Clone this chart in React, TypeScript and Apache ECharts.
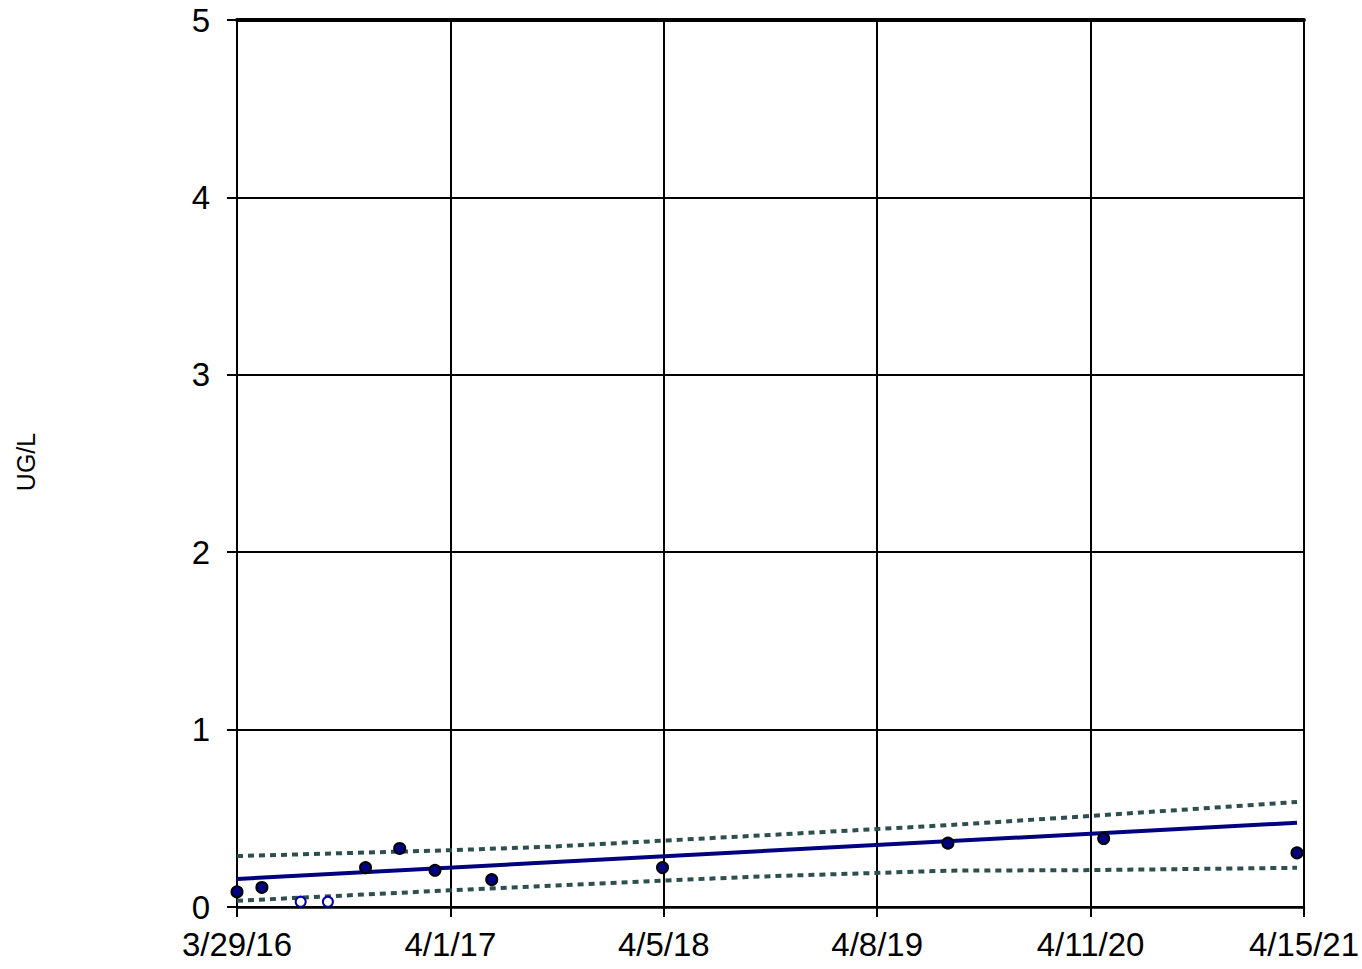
import React, { useEffect, useRef } from "react";
import * as echarts from "echarts";

// ---- Data ----
const START_DATE = "2016-03-29";
const END_DATE = "2021-04-15";
const X_TICK_COUNT = 5;

const detectDates = ["2016-03-29", "2016-05-11", "2016-11-06", "2017-01-04", "2017-03-06", "2017-06-12", "2018-04-03", "2019-08-09", "2020-05-04", "2021-04-03"];
const detectValues = [0.085, 0.11, 0.222, 0.33, 0.207, 0.154, 0.222, 0.36, 0.386, 0.305];

const nondetectDates = ["2016-07-17", "2016-09-02"];
const nondetectValues = [0.03, 0.03];

const trendDates = ["2016-03-29", "2021-04-03"];
const trendValues = [0.158, 0.475];

const bandDates = ["2016-03-29", "2017-04-01", "2017-09-21", "2018-09-01", "2019-08-13", "2020-04-11", "2021-04-03"];
const upperBand = [0.287, 0.32, 0.34, 0.4, 0.462, 0.513, 0.592];
const lowerBand = [0.035, 0.094, 0.12, 0.17, 0.205, 0.208, 0.221];

const yTicks = [0, 1, 2, 3, 4, 5];
const yLabel = "UG/L";

// ---- helpers ----
const DAY = 86400000;
const t0 = Date.parse(START_DATE + "T00:00:00Z");
const dayOf = (s: string) => Math.round((Date.parse(s + "T00:00:00Z") - t0) / DAY);
const xMax = dayOf(END_DATE);
const xInterval = Math.round((xMax / X_TICK_COUNT) * 10) / 10;
const fmt = (v: number) => {
  const d = new Date(t0 + Math.floor(v + 1e-6) * DAY);
  return `${d.getUTCMonth() + 1}/${d.getUTCDate()}/${String(d.getUTCFullYear()).slice(2)}`;
};
const pairs = (ds: string[], vs: number[]) => ds.map((d, i) => [dayOf(d), vs[i]]);

const FONT = "'Liberation Sans', Arial, sans-serif";

export default function App() {
  const ref = useRef<HTMLDivElement>(null);
  useEffect(() => {
    if (!ref.current) return;
    const chart = echarts.init(ref.current, undefined, { renderer: "svg" });
    chart.setOption({
      animation: false,
      backgroundColor: "#ffffff",
      grid: { left: 237, right: 58, top: 20, bottom: 62 },
      xAxis: [
        {
          type: "value",
          min: 0,
          max: xMax,
          interval: xInterval,
          axisLine: { show: true, onZero: false, lineStyle: { color: "#000", width: 2.5 } },
          axisTick: { show: true, length: 10, lineStyle: { color: "#000", width: 2 } },
          splitLine: { show: true, lineStyle: { color: "#000", width: 2 } },
          axisLabel: {
            formatter: fmt,
            fontSize: 33,
            color: "#000",
            fontFamily: FONT,
            margin: 21,
            showMinLabel: true,
            showMaxLabel: true,
          },
        },
        {
          type: "value",
          position: "top",
          min: 0,
          max: xMax,
          interval: xInterval,
          axisLine: { show: true, onZero: false, lineStyle: { color: "#000", width: 4 } },
          axisTick: { show: false },
          axisLabel: { show: false },
          splitLine: { show: false },
        },
      ],
      yAxis: {
        type: "value",
        min: yTicks[0],
        max: yTicks[yTicks.length - 1],
        interval: 1,
        axisLine: { show: true, onZero: false, lineStyle: { color: "#000", width: 2 } },
        axisTick: { show: true, length: 10, lineStyle: { color: "#000", width: 2 } },
        splitLine: { show: true, lineStyle: { color: "#000", width: 2 } },
        axisLabel: { fontSize: 33, color: "#000", fontFamily: FONT, margin: 27 },
      },
      graphic: [
        {
          type: "text",
          x: 26,
          y: 462,
          rotation: Math.PI / 2,
          style: {
            text: yLabel,
            fontSize: 25,
            fontFamily: FONT,
            fill: "#000",
            align: "center",
            verticalAlign: "middle",
          },
        },
      ],
      series: [
        {
          type: "line",
          xAxisIndex: 0,
          data: pairs(bandDates, upperBand),
          showSymbol: false,
          symbol: "none",
          lineStyle: { color: "#2F4F4F", width: 4, type: [6, 5] },
          z: 3,
        },
        {
          type: "line",
          xAxisIndex: 0,
          data: pairs(bandDates, lowerBand),
          showSymbol: false,
          symbol: "none",
          lineStyle: { color: "#2F4F4F", width: 4, type: [6, 5] },
          z: 3,
        },
        {
          type: "line",
          xAxisIndex: 0,
          data: pairs(trendDates, trendValues),
          showSymbol: false,
          symbol: "none",
          lineStyle: { color: "#000080", width: 4 },
          z: 4,
        },
        {
          type: "scatter",
          xAxisIndex: 0,
          data: pairs(detectDates, detectValues),
          symbol: "circle",
          symbolSize: 11,
          itemStyle: { color: "#000080", borderColor: "#000", borderWidth: 2, opacity: 1 },
          z: 5,
        },
        {
          type: "scatter",
          xAxisIndex: 0,
          data: pairs(nondetectDates, nondetectValues),
          symbol: "circle",
          symbolSize: 10,
          itemStyle: { color: "#fff", borderColor: "#0000A0", borderWidth: 2, opacity: 1 },
          z: 5,
        },
      ],
    });
    return () => chart.dispose();
  }, []);
  return (
    <div
      ref={ref}
      style={{ position: "absolute", left: 0, top: 0, width: 1362, height: 969 }}
    />
  );
}
